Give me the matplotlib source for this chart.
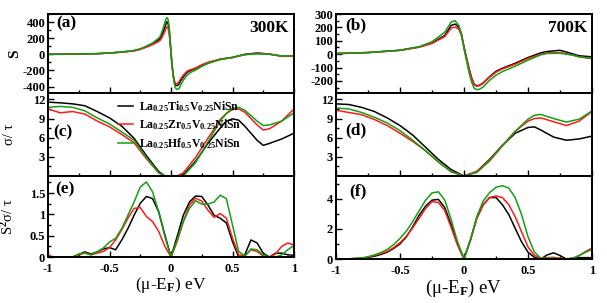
import matplotlib
matplotlib.use("Agg")
import matplotlib.pyplot as plt
from matplotlib.ticker import MultipleLocator

plt.rcParams["font.family"] = ["Liberation Serif", "DejaVu Serif"]
plt.rcParams["font.weight"] = "bold"
plt.rcParams["mathtext.fontset"] = "custom"
plt.rcParams["mathtext.rm"] = "Liberation Serif:bold"
plt.rcParams["mathtext.bf"] = "Liberation Serif:bold"
plt.rcParams["mathtext.it"] = "Liberation Serif:italic:bold"

labels = [r"La$_{0.25}$Ti$_{0.5}$V$_{0.25}$NiSn",
          r"La$_{0.25}$Zr$_{0.5}$V$_{0.25}$NiSn",
          r"La$_{0.25}$Hf$_{0.5}$V$_{0.25}$NiSn"]
colors = ["#000000", "#ff1a1a", "#12a012"]

# ---- (a) Seebeck, 300K ----
x_a = [-1, -0.8, -0.6, -0.5, -0.4, -0.3, -0.25, -0.2, -0.15, -0.1, -0.085, -0.06, -0.045,
       -0.035, -0.025, -0.015, -0.005, 0.005, 0.015, 0.025, 0.035, 0.05, 0.065, 0.08, 0.1,
       0.13, 0.16, 0.2, 0.25, 0.3, 0.4, 0.5, 0.6, 0.7, 0.8, 0.9, 1.0]
s300_ti = [0, 3, 8, 16, 28, 45, 64, 95, 128, 180, 202, 290, 360, 405, 390, 300, 120, -80,
           -230, -330, -380, -390, -370, -325, -280, -225, -200, -175, -135, -105, -60, -38,
           0, 16, 3, -22, -22]
s300_zr = [2, 3, 8, 15, 26, 42, 60, 88, 120, 160, 177, 250, 305, 340, 330, 260, 100, -70,
           -210, -310, -360, -365, -340, -300, -260, -210, -190, -170, -130, -100, -62, -42,
           -5, 12, 2, -25, -25]
s300_hf = [0, 3, 8, 16, 30, 48, 68, 102, 140, 200, 231, 340, 420, 455, 440, 350, 160, -60,
           -230, -350, -415, -437, -425, -380, -320, -260, -225, -195, -150, -115, -65, -38,
           -3, 5, 0, -20, -22]

# ---- (b) Seebeck, 700K ----
x_b = [-1, -0.75, -0.5, -0.35, -0.25, -0.15, -0.1, -0.07, -0.04, -0.02, 0.0, 0.02, 0.04,
       0.06, 0.08, 0.1, 0.12, 0.15, 0.2, 0.25, 0.3, 0.4, 0.5, 0.6, 0.65, 0.75, 0.85, 0.9, 1.0]
s700_ti = [5, 12, 29, 54, 83, 140, 215, 225, 200, 150, 55, -30, -110, -180, -225, -237,
           -232, -215, -168, -128, -105, -68, -25, 10, 20, 29, 2, -12, -20]
s700_zr = [5, 12, 28, 52, 80, 132, 195, 203, 185, 140, 50, -30, -110, -180, -228, -240,
           -235, -218, -172, -135, -110, -75, -32, 0, 10, 12, -7, -20, -32]
s700_hf = [3, 12, 30, 56, 93, 164, 240, 250, 215, 150, 40, -50, -140, -210, -255, -265,
           -262, -245, -195, -157, -130, -90, -45, -5, 5, 7, -7, -20, -32]

# ---- (c) sigma/tau, 300K ----
x_c = [-1, -0.9, -0.8, -0.7, -0.6, -0.5, -0.4, -0.3, -0.2, -0.1, -0.05, 0, 0.05, 0.1, 0.2,
       0.3, 0.4, 0.45, 0.5, 0.55, 0.6, 0.7, 0.75, 0.8, 0.9, 1.0]
c300_ti = [11.57, 11.46, 11.3, 11.0, 10.1, 9.1, 7.8, 5.9, 3.2, 0.7, 0.0, 0.0, 0.0, 0.2, 2.3,
           5.1, 7.5, 8.6, 8.95, 8.75, 7.8, 5.6, 4.8, 5.1, 5.8, 6.7]
c300_zr = [10.5, 9.9, 10.1, 9.7, 8.6, 7.7, 6.5, 5.2, 2.7, 0.5, 0.0, 0.0, 0.0, 0.5, 2.9,
           5.9, 8.85, 9.8, 10.4, 10.5, 10.0, 8.0, 7.2, 7.4, 8.6, 10.5]
c300_hf = [10.75, 10.9, 10.75, 10.2, 9.1, 8.15, 6.9, 5.6, 2.9, 0.5, 0.0, 0.0, 0.0, 0.0, 2.1,
           5.3, 8.6, 9.8, 10.6, 10.75, 10.3, 8.6, 7.9, 8.0, 8.6, 9.9]

# ---- (d) sigma/tau, 700K ----
x_d = [-1, -0.9, -0.8, -0.7, -0.6, -0.5, -0.4, -0.3, -0.2, -0.1, 0, 0.1, 0.2, 0.3, 0.4,
       0.5, 0.55, 0.6, 0.7, 0.8, 0.9, 1.0]
c700_ti = [11.3, 11.2, 10.75, 10.1, 9.1, 7.9, 6.4, 4.5, 2.6, 1.0, 0.0, 0.7, 2.6, 4.8, 6.7,
           7.6, 7.7, 7.2, 6.1, 5.6, 5.8, 6.25]
c700_zr = [10.3, 9.95, 9.6, 8.85, 7.9, 6.7, 5.4, 3.95, 2.2, 0.7, 0.0, 0.7, 2.5, 4.8, 7.0,
           8.6, 9.0, 9.1, 8.5, 7.9, 8.6, 10.1]
c700_hf = [10.65, 10.5, 9.95, 9.2, 8.3, 7.1, 5.6, 3.95, 2.2, 0.65, 0.0, 0.55, 2.35, 4.7, 7.0,
           8.9, 9.5, 9.65, 9.0, 8.45, 8.9, 10.2]

# ---- (e), (f) power factor S^2 sigma/tau ----
x_pf = [-1.0, -0.95, -0.9, -0.85, -0.8, -0.75, -0.7, -0.65, -0.6, -0.55, -0.5, -0.45, -0.4,
        -0.35, -0.3, -0.25, -0.2, -0.15, -0.1, -0.05, 0.0, 0.05, 0.1, 0.15, 0.2, 0.25, 0.3,
        0.35, 0.4, 0.45, 0.5, 0.55, 0.6, 0.65, 0.7, 0.75, 0.8, 0.85, 0.9, 0.95, 1.0]
pf300_ti = [0.0, 0.0, 0.0, 0.0, 0.0, 0.06, 0.12, 0.07, 0.12, 0.19, 0.22, 0.17, 0.40, 0.67,
            0.98, 1.26, 1.42, 1.37, 1.06, 0.52, 0.0, 0.48, 0.98, 1.29, 1.43, 1.42, 1.22, 0.98,
            0.91, 0.80, 0.36, 0.0, 0.05, 0.40, 0.33, 0.09, 0.0, 0.09, 0.09, 0.05, 0.04]
pf300_zr = [0.04, 0.0, 0.0, 0.0, 0.0, 0.05, 0.10, 0.05, 0.09, 0.13, 0.22, 0.40, 0.64, 0.91,
            1.14, 1.16, 0.95, 0.83, 0.60, 0.25, 0.0, 0.36, 0.83, 1.22, 1.38, 1.31, 1.10, 0.93,
            1.02, 0.91, 0.44, 0.05, 0.02, 0.17, 0.13, 0.02, 0.0, 0.07, 0.25, 0.33, 0.28]
pf300_hf = [0.0, 0.0, 0.0, 0.0, 0.0, 0.07, 0.09, 0.05, 0.12, 0.21, 0.35, 0.44, 0.67, 0.98,
            1.29, 1.64, 1.76, 1.53, 1.06, 0.48, 0.0, 0.40, 0.83, 1.14, 1.32, 1.24, 1.24, 1.29,
            1.45, 1.37, 0.75, 0.13, 0.02, 0.19, 0.17, 0.05, 0.0, 0.0, 0.05, 0.17, 0.27]

pf700_ti = [0.0, 0.0, 0.01, 0.03, 0.05, 0.10, 0.18, 0.30, 0.45, 0.70, 1.0, 1.47, 2.15, 2.9,
            3.5, 3.9, 3.95, 3.4, 2.26, 1.0, 0.0, 1.25, 2.7, 3.6, 4.07, 4.07, 3.6, 2.94, 2.03,
            1.13, 0.45, 0.11, 0.0, 0.27, 0.41, 0.23, 0.0, 0.05, 0.09, 0.09, 0.09]
pf700_zr = [0.0, 0.0, 0.01, 0.03, 0.05, 0.12, 0.23, 0.35, 0.50, 0.75, 1.08, 1.5, 2.08, 2.7,
            3.35, 3.8, 3.75, 3.2, 2.08, 0.9, 0.0, 1.25, 2.7, 3.6, 4.07, 4.18, 4.07, 3.6, 2.8,
            1.8, 0.8, 0.23, 0.05, 0.09, 0.11, 0.05, 0.0, 0.05, 0.23, 0.5, 0.72]
pf700_hf = [0.0, 0.0, 0.01, 0.04, 0.07, 0.15, 0.27, 0.42, 0.63, 0.95, 1.36, 1.85, 2.49, 3.2,
            3.9, 4.38, 4.45, 3.9, 2.6, 1.13, 0.0, 1.25, 2.82, 3.84, 4.4, 4.75, 4.86, 4.7, 4.07,
            2.94, 1.47, 0.45, 0.05, 0.05, 0.07, 0.0, 0.0, 0.05, 0.23, 0.45, 0.63]

panels = [
    # (x, series, ylim, major, minor, tag, tag_xy)
    (x_a, [s300_ti, s300_zr, s300_hf], (-480, 500), 200, 100, "(a)", (0.035, 0.88)),
    (x_b, [s700_ti, s700_zr, s700_hf], (-290, 300), 100, 50, "(b)", (0.035, 0.86)),
    (x_c, [c300_ti, c300_zr, c300_hf], (0, 13), 3, 1.5, "(c)", (0.02, 0.53)),
    (x_d, [c700_ti, c700_zr, c700_hf], (0, 13), 3, 1.5, "(d)", (0.035, 0.55)),
    (x_pf, [pf300_ti, pf300_zr, pf300_hf], (0, 1.9), 0.5, 0.25, "(e)", (0.03, 0.83)),
    (x_pf, [pf700_ti, pf700_zr, pf700_hf], (0, 5.5), 2, 1, "(f)", (0.05, 0.82)),
]

fig = plt.figure(figsize=(6.07, 3.03), dpi=100)
W, H = 607.0, 303.0
cols = [(48, 294, 257), (336, 592, 259)]
rows = [14, 93, 176]

axes = []
for i, (x, series, ylim, major, minor, tag, txy) in enumerate(panels):
    c, r = i % 2, i // 2
    left, right, bottom = cols[c]
    top = rows[r]
    bot = rows[r + 1] if r < 2 else bottom
    ax = fig.add_axes([left / W, 1 - bot / H, (right - left) / W, (bot - top) / H])
    for y, col, lab in zip(series, colors, labels):
        ax.plot(x, y, color=col, lw=1.1, label=lab)
    ax.set_xlim(-1, 1)
    ax.set_ylim(*ylim)
    ax.xaxis.set_major_locator(MultipleLocator(0.5))
    ax.xaxis.set_minor_locator(MultipleLocator(0.25))
    ax.yaxis.set_major_locator(MultipleLocator(major))
    ax.yaxis.set_minor_locator(MultipleLocator(minor))
    ax.tick_params(which="both", direction="in", top=False, right=False, width=1.0)
    ax.tick_params(which="major", length=4, labelsize=9)
    ax.tick_params(axis="y", which="major", pad=2)
    ax.tick_params(axis="x", which="major", pad=4)
    ax.tick_params(which="minor", length=2.5)
    for sp in ax.spines.values():
        sp.set_linewidth(1.4)
    ax.text(txy[0], txy[1], tag, transform=ax.transAxes, fontsize=12.5,
            fontweight="bold", va="center", ha="left")
    if r < 2:
        ax.tick_params(labelbottom=False)
    axes.append(ax)


def fmt_plain(v, pos):
    if abs(v - round(v)) < 1e-9:
        return "%d" % round(v)
    return "%g" % v


for ax in axes:
    ax.yaxis.set_major_formatter(plt.FuncFormatter(fmt_plain))
    ax.xaxis.set_major_formatter(plt.FuncFormatter(fmt_plain))

# no 0 label on the sigma/tau panels
for ax in (axes[2], axes[3]):
    ax.set_yticks([3, 6, 9, 12])

axes[0].text(0.98, 0.82, "300K", transform=axes[0].transAxes, fontsize=12.5,
             fontweight="bold", ha="right", va="center")
axes[1].text(0.98, 0.82, "700K", transform=axes[1].transAxes, fontsize=12.5,
             fontweight="bold", ha="right", va="center")

axes[0].set_ylabel("S", fontsize=11, fontweight="bold")
axes[0].yaxis.set_label_coords(-0.11, 0.5)
axes[2].set_ylabel("σ/ τ", fontsize=10.5)
axes[2].yaxis.set_label_coords(-0.13, 0.5)
axes[4].set_ylabel(r"S$^2$σ/ τ", fontsize=10.5)
axes[4].yaxis.set_label_coords(-0.13, 0.5)

axes[4].set_xlabel(r"(μ-E$_\mathrm{F}$) eV", fontsize=12.5, labelpad=0)
axes[5].set_xlabel(r"(μ-E$_\mathrm{F}$) eV", fontsize=13.5, labelpad=1)

axes[2].legend(loc="upper left", bbox_to_anchor=(0.255, 1.01), frameon=False, fontsize=8.5,
               handlelength=1.3, handletextpad=0.5, labelspacing=0.3, borderaxespad=0.2)

fig.savefig("out.png", dpi=100)
